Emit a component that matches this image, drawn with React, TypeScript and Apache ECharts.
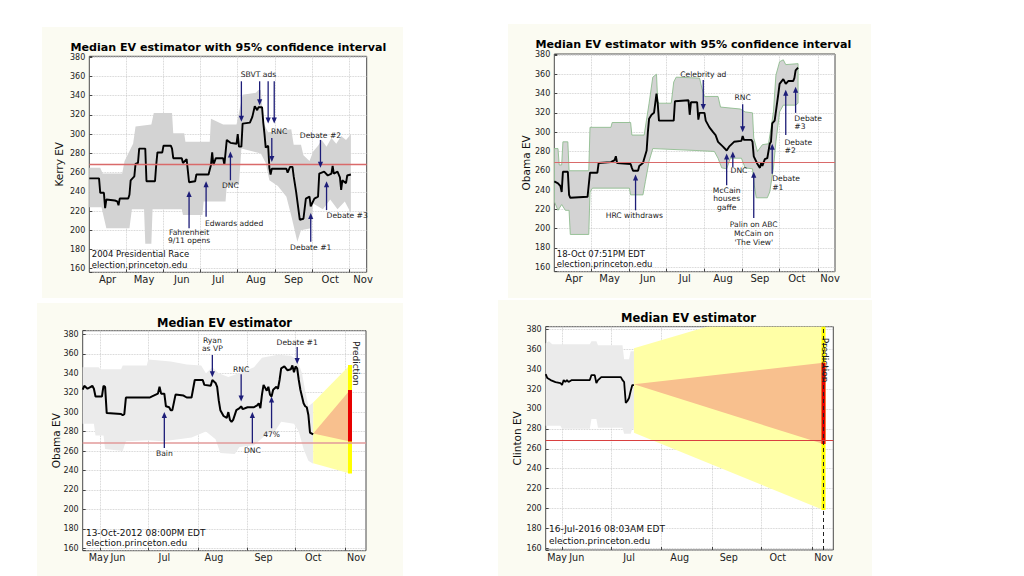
import React, { useEffect, useRef } from "react";
import * as echarts from "echarts";

type Pair = [string, number];

const FONT = "DejaVu Sans, sans-serif";
const NAVY = "#1d1d78";
const MONTH_NAMES = ["Jan", "Feb", "Mar", "Apr", "May", "Jun", "Jul", "Aug", "Sep", "Oct", "Nov", "Dec"];

// ---------------- 2004: Kerry ----------------
const kerryMedian: Pair[] = [
  ["04-01", 254], ["04-09", 254], ["04-10", 239], ["04-13", 239], ["04-14", 223], ["04-15", 232],
  ["04-22", 231], ["04-24", 230], ["04-25", 226], ["04-26", 233], ["05-03", 233], ["05-04", 237],
  ["05-05", 252], ["05-08", 256], ["05-09", 269], ["05-11", 270], ["05-12", 285], ["05-17", 285],
  ["05-18", 251], ["05-25", 251], ["05-26", 268], ["05-27", 281], ["05-31", 281], ["06-01", 288],
  ["06-07", 288], ["06-08", 285], ["06-09", 275], ["06-16", 275], ["06-17", 270], ["06-20", 274],
  ["06-22", 250], ["06-27", 251], ["06-28", 258], ["07-08", 258], ["07-09", 263], ["07-10", 268],
  ["07-11", 281], ["07-12", 268], ["07-14", 275], ["07-20", 275], ["07-21", 268], ["07-23", 294],
  ["07-26", 291], ["07-31", 290], ["08-01", 300], ["08-02", 287], ["08-04", 287], ["08-05", 311],
  ["08-11", 312], ["08-13", 318], ["08-15", 329], ["08-17", 325], ["08-18", 328], ["08-21", 328],
  ["08-22", 312], ["08-23", 300], ["08-24", 286], ["08-26", 288], ["08-27", 265], ["08-28", 258],
  ["08-29", 264], ["09-10", 264], ["09-11", 260], ["09-13", 266], ["09-15", 266], ["09-16", 256],
  ["09-18", 240], ["09-21", 211], ["09-24", 212], ["09-26", 233], ["09-29", 235], ["09-30", 225],
  ["10-03", 233], ["10-06", 235], ["10-07", 259], ["10-11", 261], ["10-14", 257], ["10-17", 259],
  ["10-18", 267], ["10-19", 259], ["10-22", 261], ["10-24", 255], ["10-25", 242], ["10-26", 252],
  ["10-29", 249], ["10-30", 257], ["11-02", 258],
];
const kerryUpper: Pair[] = [
  ["04-01", 265], ["04-10", 265], ["04-12", 259], ["04-28", 259], ["04-30", 272], ["05-07", 290],
  ["05-09", 308], ["05-22", 310], ["05-24", 322], ["06-08", 322], ["06-09", 301], ["06-18", 301],
  ["06-19", 292], ["07-09", 292], ["07-10", 316], ["07-20", 310], ["07-31", 310], ["08-02", 322],
  ["08-05", 341], ["08-16", 343], ["08-18", 346], ["08-20", 346], ["08-22", 312], ["08-26", 302],
  ["09-14", 305], ["09-16", 289], ["09-22", 289], ["09-24", 278], ["09-29", 272], ["10-02", 282],
  ["10-06", 288], ["10-09", 294], ["10-13", 287], ["10-17", 296], ["10-21", 290], ["10-25", 298],
  ["10-29", 294], ["11-02", 300],
];
const kerryLower: Pair[] = [
  ["04-01", 224], ["04-11", 224], ["04-15", 202], ["05-04", 202], ["05-06", 222], ["05-16", 222],
  ["05-17", 186], ["05-22", 186], ["05-23", 222], ["06-16", 222], ["06-17", 216], ["07-03", 216],
  ["07-04", 230], ["07-22", 230], ["07-23", 247], ["08-02", 247], ["08-04", 285], ["08-20", 280],
  ["08-24", 270], ["08-27", 252], ["09-03", 246], ["09-10", 235], ["09-14", 215], ["09-19", 188],
  ["09-22", 200], ["09-30", 202], ["10-02", 228], ["10-10", 222], ["10-16", 232], ["10-22", 222],
  ["10-28", 230], ["11-02", 218],
];
const kerryMonthLabels = ["04-16", "05-16", "06-16", "07-16", "08-16", "09-16", "10-16", "11-12"];
const kerryArrowDates = ["06-22", "07-06", "07-26", "08-04", "08-19", "08-26", "08-31", "08-29", "09-30", "10-08", "10-13"];
const kerryArrowFrom = [202, 214, 252, 355, 355, 355, 355, 296, 188, 294, 221];
const kerryArrowTo = [241, 251, 282, 313, 330, 311, 311, 271, 218, 265, 251];
const kerryNoteTexts = ["Fahrenheit\n9/11 opens", "Edwards added", "DNC", "SBVT ads", "RNC", "Debate #1", "Debate #2", "Debate #3"];
const kerryNoteDates = ["06-22", "07-05", "07-26", "08-18", "09-04", "09-30", "10-08", "10-13"];
const kerryNoteVals = [193.5, 207, 247, 362, 303, 182, 299, 215];
const kerryNoteAligns = ["center", "left", "center", "center", "center", "center", "center", "left"];
const kerryFooter = ["2004 Presidential Race", "election.princeton.edu"];
const kerryFooterVals = [175, 164];

// ---------------- 2008: Obama ----------------
const obama08Median: Pair[] = [
  ["04-01", 249], ["04-04", 247], ["04-06", 244], ["04-07", 238], ["04-08", 259], ["04-12", 259],
  ["04-13", 235], ["04-14", 232], ["04-28", 233], ["04-30", 258], ["05-06", 258], ["05-07", 268],
  ["05-17", 269], ["05-20", 271], ["05-21", 275], ["05-22", 268], ["06-02", 267], ["06-03", 263],
  ["06-04", 260], ["06-08", 260], ["06-09", 265], ["06-12", 268], ["06-15", 281], ["06-16", 300],
  ["06-17", 314], ["06-19", 318], ["06-21", 320], ["06-23", 340], ["06-24", 330], ["06-25", 312],
  ["07-07", 312], ["07-08", 332], ["07-19", 333], ["07-20", 318], ["07-21", 331], ["07-26", 331],
  ["07-27", 313], ["07-28", 320], ["08-01", 320], ["08-02", 312], ["08-05", 305], ["08-08", 300],
  ["08-10", 297], ["08-12", 290], ["08-16", 285], ["08-19", 281], ["08-21", 285], ["08-25", 290],
  ["08-31", 291], ["09-01", 296], ["09-02", 292], ["09-08", 292], ["09-09", 290], ["09-10", 275],
  ["09-13", 267], ["09-15", 263], ["09-16", 268], ["09-17", 265], ["09-19", 272], ["09-21", 273],
  ["09-23", 288], ["09-24", 290], ["09-25", 309], ["09-27", 312], ["09-30", 340], ["10-01", 350],
  ["10-04", 355], ["10-06", 350], ["10-08", 353], ["10-12", 353], ["10-13", 356], ["10-14", 364],
  ["10-16", 367],
];
const obama08Upper: Pair[] = [
  ["04-01", 283], ["04-04", 283], ["04-05", 266], ["04-07", 266], ["04-08", 290], ["04-12", 290],
  ["04-13", 260], ["04-29", 260], ["04-30", 305], ["05-17", 305], ["05-18", 310], ["06-02", 310],
  ["06-03", 297], ["06-13", 297], ["06-17", 330], ["06-20", 357], ["06-23", 360], ["06-24", 332],
  ["06-25", 330], ["07-05", 330], ["07-07", 352], ["07-09", 357], ["07-28", 356], ["07-30", 345],
  ["08-01", 337], ["08-12", 337], ["08-14", 326], ["08-30", 324], ["09-03", 321], ["09-09", 320],
  ["09-10", 294], ["09-13", 280], ["09-17", 287], ["09-22", 288], ["09-24", 304], ["09-26", 321],
  ["09-28", 359], ["10-01", 373], ["10-04", 375], ["10-06", 370], ["10-16", 371],
];
const obama08Lower: Pair[] = [
  ["04-01", 228], ["04-04", 219], ["04-07", 225], ["04-10", 219], ["04-13", 219], ["04-14", 194],
  ["04-29", 194], ["04-30", 238], ["05-02", 242], ["06-01", 242], ["06-02", 235], ["06-12", 235],
  ["06-14", 249], ["06-17", 270], ["06-20", 283], ["07-25", 281], ["08-09", 280], ["08-12", 273],
  ["08-15", 263], ["08-19", 262], ["08-22", 273], ["08-31", 273], ["09-03", 263], ["09-09", 262],
  ["09-10", 249], ["09-12", 232], ["09-21", 232], ["09-23", 238], ["09-26", 263], ["09-28", 290],
  ["10-01", 321], ["10-04", 328], ["10-14", 328], ["10-16", 330],
];
const obama08MonthLabels = ["04-17", "05-16", "06-16", "07-16", "08-16", "09-15", "10-15", "11-11"];
const obama08ArrowDates = ["06-06", "07-31", "08-19", "08-24", "09-01", "09-10", "09-25", "10-06", "10-14"];
const obama08ArrowFrom = [219, 354, 245, 264, 329, 211, 257, 297, 320];
const obama08ArrowTo = [256, 323, 278, 280, 300, 259, 288, 344, 347];
const obama08NoteTexts = ["HRC withdraws", "Celebrity ad", "McCain\nhouses\ngaffe", "DNC", "RNC", "Palin on ABC\nMcCain on\n'The View'", "Debate\n#1", "Debate\n#2", "Debate\n#3"];
const obama08NoteDates = ["06-05", "07-31", "08-19", "08-29", "09-01", "09-10", "09-25", "10-05", "10-13"];
const obama08NoteVals = [213.5, 360, 230.8, 260, 336, 195, 247, 285, 310];
const obama08NoteAligns = ["center", "center", "center", "center", "center", "center", "left", "left", "left"];
const obama08Footer = ["18-Oct 07:51PM EDT", "election.princeton.edu"];
const obama08FooterVals = [173.4, 163];

// ---------------- 2012: Obama ----------------
const obama12Median: Pair[] = [
  ["05-21", 323], ["05-22", 327], ["05-24", 324], ["05-26", 326], ["05-27", 327], ["05-28", 324],
  ["05-29", 316], ["06-02", 316], ["06-03", 327], ["06-04", 326], ["06-05", 299], ["06-14", 298],
  ["06-15", 297], ["06-16", 298], ["06-17", 315], ["07-02", 315], ["07-03", 316], ["07-07", 319],
  ["07-08", 326], ["07-09", 319], ["07-11", 319], ["07-12", 306], ["07-14", 305], ["07-15", 302],
  ["07-16", 302], ["07-18", 318], ["07-23", 317], ["07-25", 315], ["07-28", 315], ["07-29", 324],
  ["07-30", 333], ["08-04", 333], ["08-05", 328], ["08-09", 327], ["08-10", 333], ["08-12", 330],
  ["08-13", 326], ["08-14", 312], ["08-15", 302], ["08-17", 296], ["08-19", 294], ["08-20", 300],
  ["08-21", 292], ["08-22", 290], ["08-23", 292], ["08-25", 302], ["08-27", 304], ["08-28", 306],
  ["08-29", 303], ["09-01", 305], ["09-05", 305], ["09-07", 307], ["09-08", 309], ["09-09", 304],
  ["09-10", 318], ["09-11", 328], ["09-13", 322], ["09-14", 326], ["09-15", 318], ["09-16", 316],
  ["09-17", 323], ["09-19", 326], ["09-20", 324], ["09-21", 333], ["09-22", 345], ["09-24", 347],
  ["09-26", 343], ["09-28", 344], ["09-29", 348], ["09-30", 341], ["10-01", 347], ["10-02", 345],
  ["10-03", 333], ["10-04", 323], ["10-05", 316], ["10-06", 309], ["10-07", 306], ["10-08", 305],
  ["10-09", 297], ["10-10", 279], ["10-12", 277],
];
const obama12Upper: Pair[] = [
  ["05-21", 346], ["05-31", 346], ["06-01", 344], ["06-14", 344], ["06-15", 348], ["06-30", 348],
  ["07-01", 354], ["07-15", 352], ["07-25", 349], ["08-03", 348], ["08-06", 340], ["08-10", 346],
  ["08-14", 340], ["08-20", 336], ["08-30", 342], ["09-05", 346], ["09-10", 356], ["09-20", 359],
  ["09-28", 358], ["10-02", 354], ["10-05", 340], ["10-07", 322], ["10-09", 306], ["10-12", 310],
];
const obama12Lower: Pair[] = [
  ["05-21", 288], ["05-28", 288], ["05-29", 276], ["06-03", 276], ["06-04", 262], ["06-15", 260],
  ["06-17", 270], ["07-01", 271], ["07-10", 270], ["07-20", 272], ["07-28", 274], ["08-06", 280],
  ["08-12", 272], ["08-15", 258], ["08-24", 257], ["08-27", 264], ["09-05", 266], ["09-12", 276],
  ["09-18", 280], ["09-22", 290], ["09-30", 288], ["10-03", 280], ["10-06", 262], ["10-09", 250],
  ["10-12", 247],
];
const obama12MonthLabels = ["05-31", "06-12", "07-11", "08-11", "09-11", "10-12", "11-08"];
const obama12ArrowDates = ["07-11", "08-10", "08-28", "09-04", "09-16", "10-02"];
const obama12ArrowFrom = [263, 358.7, 339, 268, 283.4, 367];
const obama12ArrowTo = [300, 335.8, 311, 300, 316, 349.5];
const obama12NoteTexts = ["Bain", "Ryan\nas VP", "RNC", "DNC", "47%", "Debate #1"];
const obama12NoteDates = ["07-11", "08-10", "08-28", "09-04", "09-16", "10-02"];
const obama12NoteVals = [257.6, 369.4, 344.3, 261, 276.5, 371.4];
const obama12NoteAligns = ["center", "center", "center", "center", "center", "center"];
const obama12Footer = ["13-Oct-2012 08:00PM EDT", "election.princeton.edu"];
const obama12FooterVals = [176, 165.2];
const obama12PredDates = ["10-12", "11-04"];
const obama12YellowTop = [310, 348.4];
const obama12YellowBottom = [247.4, 237];
const obama12OrangeTop = [278, 322.8];
const obama12OrangeBottom = [278, 269.7];

// ---------------- 2016: Clinton ----------------
const clintonMedian: Pair[] = [
  ["05-22", 335], ["05-23", 331], ["05-25", 329], ["05-28", 327], ["05-31", 326], ["06-01", 324],
  ["06-02", 329], ["06-03", 327], ["06-04", 329], ["06-05", 327], ["06-07", 329], ["06-18", 329],
  ["06-19", 334], ["06-21", 334], ["06-22", 326], ["06-23", 329], ["06-25", 332], ["07-07", 332],
  ["07-08", 329], ["07-09", 327], ["07-10", 306], ["07-11", 308], ["07-12", 311], ["07-13", 318],
  ["07-14", 324], ["07-15", 324],
];
const clintonUpper: Pair[] = [
  ["05-22", 366], ["05-24", 368], ["05-26", 365], ["06-18", 365], ["06-19", 368], ["06-22", 368],
  ["06-23", 364], ["07-08", 364], ["07-09", 350], ["07-12", 350], ["07-13", 358], ["07-15", 358],
];
const clintonLower: Pair[] = [
  ["05-22", 283], ["05-31", 283], ["06-01", 280], ["06-18", 280], ["06-19", 290], ["06-22", 290],
  ["06-23", 281], ["07-08", 281], ["07-09", 275], ["07-13", 275], ["07-14", 280], ["07-15", 280],
];
const clintonMonthLabels = ["05-29", "06-10", "07-12", "08-12", "09-11", "10-11", "11-08"];
const clintonFooter = ["16-Jul-2016 08:03AM EDT", "election.princeton.edu"];
const clintonFooterVals = [179, 167.5];
const clintonPredDates = ["07-15", "11-08"];
const clintonYellowTop = [361, 417];
const clintonYellowBottom = [276, 198.4];
const clintonOrangeTop = [324.7, 346.4];
const clintonOrangeBottom = [324.7, 264.7];

const MAJORITY = 269;

// ---------------- helpers ----------------
function makeDays(year: number, start: string, end: string): string[] {
  const [sm, sd] = start.split("-").map(Number);
  const [em, ed] = end.split("-").map(Number);
  const d = new Date(Date.UTC(year, sm - 1, sd));
  const stop = Date.UTC(year, em - 1, ed);
  const out: string[] = [];
  while (d.getTime() <= stop) {
    const m = String(d.getUTCMonth() + 1).padStart(2, "0");
    const dd = String(d.getUTCDate()).padStart(2, "0");
    out.push(`${year}-${m}-${dd}`);
    d.setUTCDate(d.getUTCDate() + 1);
  }
  return out;
}

interface Pred {
  dates: string[];
  yTop: number[];
  yBot: number[];
  oTop: number[];
  oBot: number[];
  labelDate: string;
  labelVal: number;
  dashed: boolean;
}

interface PanelSpec {
  year: number;
  start: string;
  end: string;
  grid: { left: number; top: number; width: number; height: number };
  yMin: number;
  yMax: number;
  yName: string;
  nameGap: number;
  monthSize: number;
  monthLabels: string[];
  median: Pair[];
  upper: Pair[];
  lower: Pair[];
  bandFill: string;
  bandStroke?: string;
  redColor: string;
  redWidth: number;
  medWidth: number;
  arrowDates: string[];
  arrowFrom: number[];
  arrowTo: number[];
  noteTexts: string[];
  noteDates: string[];
  noteVals: number[];
  noteAligns: string[];
  noteSize: number;
  footer: string[];
  footerDate: string;
  footerVals: number[];
  footerSize: number;
  pred?: Pred;
}

const panels: PanelSpec[] = [
  {
    year: 2004, start: "04-01", end: "11-15",
    grid: { left: 89.3, top: 56.3, width: 277.4, height: 216 },
    yMin: 156.3, yMax: 381, yName: "Kerry EV", nameGap: 24.5, monthSize: 10,
    monthLabels: kerryMonthLabels,
    median: kerryMedian, upper: kerryUpper, lower: kerryLower,
    bandFill: "#d3d3d3", redColor: "#d96a6a", redWidth: 1.3, medWidth: 1.9,
    arrowDates: kerryArrowDates, arrowFrom: kerryArrowFrom, arrowTo: kerryArrowTo,
    noteTexts: kerryNoteTexts, noteDates: kerryNoteDates, noteVals: kerryNoteVals, noteAligns: kerryNoteAligns, noteSize: 7.6,
    footer: kerryFooter, footerDate: "04-03", footerVals: kerryFooterVals, footerSize: 8.5,
  },
  {
    year: 2008, start: "04-01", end: "11-15",
    grid: { left: 554.3, top: 54, width: 280.7, height: 217.7 },
    yMin: 155.4, yMax: 381, yName: "Obama EV", nameGap: 22.5, monthSize: 10,
    monthLabels: obama08MonthLabels,
    median: obama08Median, upper: obama08Upper, lower: obama08Lower,
    bandFill: "#d3d3d3", bandStroke: "#8fbc8f", redColor: "#d96a6a", redWidth: 1.2, medWidth: 1.9,
    arrowDates: obama08ArrowDates, arrowFrom: obama08ArrowFrom, arrowTo: obama08ArrowTo,
    noteTexts: obama08NoteTexts, noteDates: obama08NoteDates, noteVals: obama08NoteVals, noteAligns: obama08NoteAligns, noteSize: 7.6,
    footer: obama08Footer, footerDate: "04-03", footerVals: obama08FooterVals, footerSize: 8.5,
  },
  {
    year: 2012, start: "05-21", end: "11-14",
    grid: { left: 82.7, top: 330.7, width: 283.3, height: 220 },
    yMin: 157.5, yMax: 383.7, yName: "Obama EV", nameGap: 21.5, monthSize: 9.6,
    monthLabels: obama12MonthLabels,
    median: obama12Median, upper: obama12Upper, lower: obama12Lower,
    bandFill: "#ebebeb", redColor: "#e29a9a", redWidth: 1.5, medWidth: 2,
    arrowDates: obama12ArrowDates, arrowFrom: obama12ArrowFrom, arrowTo: obama12ArrowTo,
    noteTexts: obama12NoteTexts, noteDates: obama12NoteDates, noteVals: obama12NoteVals, noteAligns: obama12NoteAligns, noteSize: 7.6,
    footer: obama12Footer, footerDate: "05-23", footerVals: obama12FooterVals, footerSize: 9,
    pred: {
      dates: obama12PredDates, yTop: obama12YellowTop, yBot: obama12YellowBottom,
      oTop: obama12OrangeTop, oBot: obama12OrangeBottom, labelDate: "11-08", labelVal: 350, dashed: false,
    },
  },
  {
    year: 2016, start: "05-22", end: "11-14",
    grid: { left: 545.7, top: 326.7, width: 287.6, height: 223.3 },
    yMin: 158.3, yMax: 382.6, yName: "Clinton EV", nameGap: 23, monthSize: 9.6,
    monthLabels: clintonMonthLabels,
    median: clintonMedian, upper: clintonUpper, lower: clintonLower,
    bandFill: "#ebebeb", redColor: "#d94040", redWidth: 1, medWidth: 1.8,
    arrowDates: [], arrowFrom: [], arrowTo: [],
    noteTexts: [], noteDates: [], noteVals: [], noteAligns: [], noteSize: 7.6,
    footer: clintonFooter, footerDate: "05-24", footerVals: clintonFooterVals, footerSize: 9,
    pred: {
      dates: clintonPredDates, yTop: clintonYellowTop, yBot: clintonYellowBottom,
      oTop: clintonOrangeTop, oBot: clintonOrangeBottom, labelDate: "11-09", labelVal: 349, dashed: true,
    },
  },
];

const titles = [
  { text: "Median EV estimator with 95% confidence interval", x: 228.3, y: 47, size: 11.1 },
  { text: "Median EV estimator with 95% confidence interval", x: 693.3, y: 44.3, size: 11.1 },
  { text: "Median EV estimator", x: 224.5, y: 323.3, size: 11.5 },
  { text: "Median EV estimator", x: 688.5, y: 318.3, size: 11.5 },
];

const panelBoxes = [
  { x: 42, y: 27, width: 361, height: 271 },
  { x: 508, y: 24, width: 363, height: 274 },
  { x: 37, y: 303, width: 366, height: 273 },
  { x: 498, y: 300, width: 374, height: 276 },
];

function buildOption() {
  const grids: any[] = [];
  const xAxes: any[] = [];
  const yAxes: any[] = [];
  const series: any[] = [];

  panels.forEach((p, i) => {
    const days = makeDays(p.year, p.start, p.end);
    const lookup = new Map<string, number>(days.map((d, k) => [d.slice(5), k]));
    const ix = (md: string) => lookup.get(md) as number;
    const labelSet = new Set(p.monthLabels.map((md) => `${p.year}-${md}`));
    const monthStart = (index: number, value: string) => index > 0 && value.endsWith("-01");

    grids.push({
      ...p.grid,
      show: true,
      backgroundColor: "#ffffff",
      borderColor: "#4a4a4a",
      borderWidth: 1,
    });

    xAxes.push({
      type: "category",
      gridIndex: i,
      data: days,
      boundaryGap: false,
      axisLine: { show: false },
      axisTick: { show: true, inside: true, length: 3, interval: monthStart, lineStyle: { color: "#444" } },
      axisLabel: {
        interval: (_index: number, value: string) => labelSet.has(value),
        formatter: (value: string) => MONTH_NAMES[Number(value.slice(5, 7)) - 1],
        fontSize: p.monthSize,
        fontFamily: FONT,
        color: "#222",
        margin: 2,
      },
      splitLine: { show: true, interval: monthStart, lineStyle: { color: "#c4c4c4", type: "dotted", width: 0.8 } },
    });

    yAxes.push({
      type: "value",
      gridIndex: i,
      min: p.yMin,
      max: p.yMax,
      minInterval: 20,
      maxInterval: 20,
      splitNumber: 11,
      name: p.yName,
      nameLocation: "middle",
      nameGap: p.nameGap,
      nameMoveOverlap: false,
      nameTextStyle: { fontSize: 10.5, fontFamily: FONT, color: "#111" },
      axisLine: { show: false },
      axisTick: { show: true, inside: true, length: 3, lineStyle: { color: "#444" } },
      axisLabel: {
        fontSize: 8,
        lineHeight: 8,
        fontFamily: FONT,
        color: "#222",
        margin: 4,
        formatter: (v: number) => (Math.abs(v % 20) < 1e-6 ? String(v) : ""),
      },
      splitLine: { show: true, lineStyle: { color: "#c4c4c4", type: "dotted", width: 0.8 } },
    });

    // confidence band
    const bandPts: [number, number][] = [
      ...p.upper.map(([d, v]) => [ix(d), v] as [number, number]),
      ...p.lower.slice().reverse().map(([d, v]) => [ix(d), v] as [number, number]),
    ];
    series.push({
      type: "custom",
      xAxisIndex: i,
      yAxisIndex: i,
      z: 1,
      silent: true,
      clip: true,
      data: [[0, 300]],
      renderItem: (_params: any, api: any) => ({
        type: "polygon",
        shape: { points: bandPts.map((pt) => api.coord(pt)) },
        style: {
          fill: p.bandFill,
          stroke: p.bandStroke ? p.bandStroke : "none",
          lineWidth: p.bandStroke ? 0.9 : 0,
        },
      }),
    });

    // prediction cones
    if (p.pred) {
      const pr = p.pred;
      series.push({
        type: "custom",
        xAxisIndex: i,
        yAxisIndex: i,
        z: 2,
        silent: true,
        clip: true,
        data: [[0, 300]],
        renderItem: (_params: any, api: any) => {
          const s = ix(pr.dates[0]);
          const e = ix(pr.dates[1]);
          const c = (x: number, v: number) => api.coord([x, v]);
          const yt = c(e, pr.yTop[1]);
          const yb = c(e, pr.yBot[1]);
          const ot = c(e, pr.oTop[1]);
          const ob = c(e, pr.oBot[1]);
          return {
            type: "group",
            children: [
              {
                type: "polygon",
                shape: { points: [c(s, pr.yTop[0]), yt, yb, c(s, pr.yBot[0])] },
                style: { fill: "#ffffa6" },
              },
              {
                type: "polygon",
                shape: { points: [c(s, pr.oTop[0]), ot, ob, c(s, pr.oBot[0])] },
                style: { fill: "#f8c08e" },
              },
              {
                type: "line",
                shape: { x1: yt[0], y1: yt[1], x2: yb[0], y2: yb[1] },
                style: { stroke: "#ffff00", lineWidth: 4 },
              },
              {
                type: "line",
                shape: { x1: ot[0], y1: ot[1], x2: ob[0], y2: ob[1] },
                style: { stroke: "#e80000", lineWidth: 4 },
              },
            ],
          };
        },
      });
    }

    // median line + majority line (+ election-day dashed line)
    const markData: any[] = [
      { yAxis: MAJORITY, lineStyle: { color: p.redColor, width: p.redWidth, type: "solid" } },
    ];
    if (p.pred && p.pred.dashed) {
      markData.push({
        xAxis: `${p.year}-${p.pred.dates[1]}`,
        lineStyle: { color: "#222", width: 1, type: [4, 3] },
      });
    }
    series.push({
      type: "line",
      xAxisIndex: i,
      yAxisIndex: i,
      z: 3,
      data: p.median.map(([d, v]) => [ix(d), v]),
      showSymbol: false,
      symbol: "none",
      lineStyle: { color: "#000", width: p.medWidth },
      silent: true,
      markLine: {
        silent: true,
        symbol: ["none", "none"],
        label: { show: false },
        data: markData,
      },
    });

    // arrows
    if (p.arrowDates.length) {
      series.push({
        type: "custom",
        xAxisIndex: i,
        yAxisIndex: i,
        z: 5,
        silent: true,
        clip: false,
        data: p.arrowDates.map((d, k) => [ix(d), p.arrowFrom[k], p.arrowTo[k]]),
        encode: { x: 0, y: [1, 2] },
        renderItem: (_params: any, api: any) => {
          const x = api.value(0);
          const a = api.coord([x, api.value(1)]);
          const b = api.coord([x, api.value(2)]);
          const dir = b[1] > a[1] ? 1 : -1;
          const hl = 6;
          const hw = 2.6;
          return {
            type: "group",
            children: [
              {
                type: "line",
                shape: { x1: a[0], y1: a[1], x2: b[0], y2: b[1] - dir * hl * 0.7 },
                style: { stroke: NAVY, lineWidth: 1.3 },
              },
              {
                type: "polygon",
                shape: { points: [[b[0], b[1]], [b[0] - hw, b[1] - dir * hl], [b[0] + hw, b[1] - dir * hl]] },
                style: { fill: NAVY },
              },
            ],
          };
        },
      });
    }

    // annotation texts, footers, prediction label
    const texts: { t: string; d: string; v: number; align: string; size: number; rot: number; color: string }[] = [];
    p.noteTexts.forEach((t, k) =>
      texts.push({ t, d: p.noteDates[k], v: p.noteVals[k], align: p.noteAligns[k], size: p.noteSize, rot: 0, color: "#222" })
    );
    p.footer.forEach((t, k) =>
      texts.push({ t, d: p.footerDate, v: p.footerVals[k], align: "left", size: p.footerSize, rot: 0, color: "#111" })
    );
    if (p.pred) {
      texts.push({ t: "Prediction", d: p.pred.labelDate, v: p.pred.labelVal, align: "center", size: 9, rot: -Math.PI / 2, color: "#222" });
    }
    series.push({
      type: "custom",
      xAxisIndex: i,
      yAxisIndex: i,
      z: 6,
      silent: true,
      clip: false,
      data: texts.map((o) => [ix(o.d), o.v]),
      renderItem: (params: any, api: any) => {
        const o = texts[params.dataIndex];
        const pt = api.coord([api.value(0), api.value(1)]);
        return {
          type: "text",
          x: pt[0],
          y: pt[1],
          rotation: o.rot,
          style: {
            text: o.t,
            fill: o.color,
            fontSize: o.size,
            fontFamily: FONT,
            align: o.align,
            verticalAlign: "middle",
            lineHeight: Math.round(o.size * 1.15 * 10) / 10,
          },
        };
      },
    });
  });

  const graphic: any[] = [
    ...panelBoxes.map((b) => ({
      type: "rect",
      z: -100,
      silent: true,
      shape: b,
      style: { fill: "#fbfbf2" },
    })),
    ...titles.map((t) => ({
      type: "text",
      z: 100,
      silent: true,
      x: t.x,
      y: t.y,
      style: {
        text: t.text,
        fontSize: t.size,
        lineHeight: 12,
        fontWeight: "bold",
        fontFamily: FONT,
        fill: "#000",
        align: "center",
        verticalAlign: "middle",
      },
    })),
  ];

  return {
    animation: false,
    backgroundColor: "#ffffff",
    grid: grids,
    xAxis: xAxes,
    yAxis: yAxes,
    series,
    graphic,
  };
}

export default function App() {
  const ref = useRef<HTMLDivElement>(null);
  useEffect(() => {
    if (!ref.current) return;
    const chart = echarts.init(ref.current, undefined, { renderer: "svg" });
    chart.setOption(buildOption() as any);
    return () => {
      chart.dispose();
    };
  }, []);
  return (
    <div
      ref={ref}
      style={{ position: "fixed", left: 0, top: 0, width: 1024, height: 576, background: "#fff" }}
    />
  );
}
